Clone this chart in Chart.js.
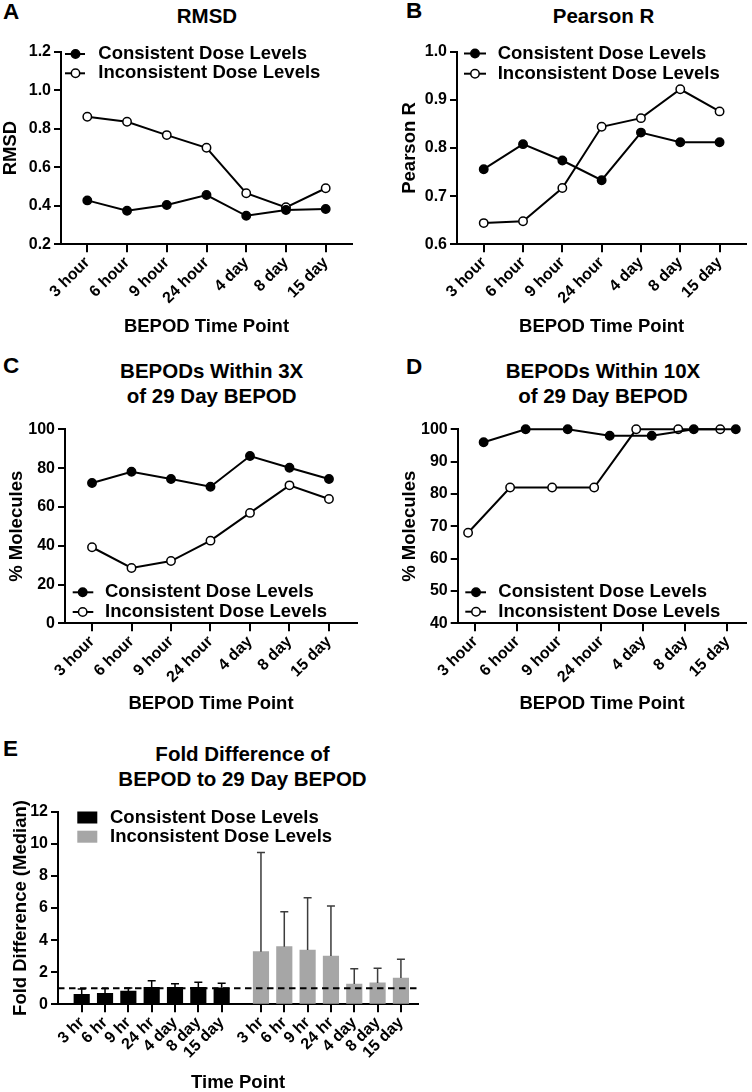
<!DOCTYPE html>
<html>
<head>
<meta charset="utf-8">
<script src="https://cdn.jsdelivr.net/npm/chart.js@4.4.0/dist/chart.umd.min.js"></script>
<style>
body { margin:0; width:752px; height:1092px; background:#fff; position:relative; overflow:hidden;
  font-family:'Liberation Sans', Arial, sans-serif; font-weight:bold; color:#000; }
canvas { position:absolute; }
.lbl { position:absolute; font-size:22.5px; line-height:24px; }
.ttl { position:absolute; width:340px; text-align:center; font-size:20.5px; line-height:25px; }
</style>
</head>
<body>
<div class="lbl" style="left:3px;top:0px">A</div>
<div class="lbl" style="left:406px;top:-1.5px">B</div>
<div class="lbl" style="left:3px;top:353.7px">C</div>
<div class="lbl" style="left:406px;top:354.7px">D</div>
<div class="lbl" style="left:3px;top:737px">E</div>

<div class="ttl" style="left:37px;top:3px">RMSD</div>
<div class="ttl" style="left:433.5px;top:3px">Pearson R</div>
<div class="ttl" style="left:41.7px;top:357.5px">BEPODs Within 3X<br>of 29 Day BEPOD</div>
<div class="ttl" style="left:433px;top:357.5px">BEPODs Within 10X<br>of 29 Day BEPOD</div>
<div class="ttl" style="left:72.5px;top:740.5px">Fold Difference of<br>BEPOD to 29 Day BEPOD</div>

<canvas id="chartA" width="376" height="320" style="left:0;top:30px"></canvas>
<canvas id="chartB" width="376" height="320" style="left:376px;top:30px"></canvas>
<canvas id="chartC" width="376" height="310" style="left:0;top:410px"></canvas>
<canvas id="chartD" width="376" height="310" style="left:376px;top:410px"></canvas>
<canvas id="chartE" width="440" height="302" style="left:0;top:790px"></canvas>

<script>
// ---- data ----
var timeLabels = ['3 hour', '6 hour', '9 hour', '24 hour', '4 day', '8 day', '15 day'];
var barLabels = ['3 hr', '6 hr', '9 hr', '24 hr', '4 day', '8 day', '15 day'];
var seriesNames = ['Consistent Dose Levels', 'Inconsistent Dose Levels'];

var rmsdConsistent = [0.428, 0.374, 0.404, 0.456, 0.348, 0.378, 0.383];
var rmsdInconsistent = [0.862, 0.836, 0.767, 0.701, 0.465, 0.392, 0.491];

var pearsonConsistent = [0.756, 0.808, 0.774, 0.733, 0.832, 0.812, 0.812];
var pearsonInconsistent = [0.644, 0.648, 0.717, 0.844, 0.862, 0.922, 0.876];

var within3xConsistent = [72.3, 78.1, 74.4, 70.4, 86.2, 80.2, 74.4];
var within3xInconsistent = [39.2, 28.5, 32.1, 42.6, 56.9, 71.1, 64.1];

var within10xConsistent = [96, 100, 100, 98, 98, 100, 100];
var within10xInconsistent = [68, 82, 82, 82, 100, 100, 100];

var foldConsistent = [0.62, 0.69, 0.82, 1.06, 1.05, 1.06, 1.03];
var foldConsistentUpper = [0.96, 0.99, 1.02, 1.47, 1.28, 1.38, 1.31];
var foldInconsistent = [3.28, 3.59, 3.38, 3.01, 1.26, 1.33, 1.64];
var foldInconsistentUpper = [9.46, 5.77, 6.64, 6.12, 2.22, 2.24, 2.8];
var foldRefLine = 1;

// ---- shared look ----
var FONT = "'Liberation Sans', Arial, sans-serif";
Chart.defaults.font.family = FONT;
Chart.defaults.font.weight = 'bold';
Chart.defaults.color = '#000';

var TICK_FONT = {size: 16, weight: 'bold'};
var AXIS_TITLE_FONT = {size: 18.5, weight: 'bold'};
var LH = 18.5 * 1.2;

// legend drawn inside the plot area, like the original
var insideLegend = {
  id: 'insideLegend',
  afterDraw: function(chart, args, opts) {
    if (!opts.rows) return;
    var ctx = chart.ctx, a = chart.chartArea;
    ctx.save();
    ctx.font = 'bold 18.5px ' + FONT;
    ctx.textBaseline = 'middle';
    chart.data.datasets.forEach(function(ds, i) {
      var y = (opts.fromBottom ? a.bottom : a.top) + opts.rows[i];
      var x = a.left;
      if (opts.kind == 'box') {
        ctx.fillStyle = ds.backgroundColor;
        ctx.fillRect(x + opts.x0, y - 6, opts.x1 - opts.x0, 12);
      } else {
        ctx.strokeStyle = '#000';
        ctx.lineWidth = 2;
        ctx.beginPath();
        ctx.moveTo(x + opts.x0, y);
        ctx.lineTo(x + opts.x1, y);
        ctx.stroke();
        ctx.beginPath();
        ctx.arc(x + opts.xm, y, 4.2, 0, Math.PI * 2);
        ctx.fillStyle = ds.pointBackgroundColor;
        ctx.fill();
        ctx.lineWidth = 1.5;
        ctx.stroke();
      }
      ctx.fillStyle = '#000';
      ctx.fillText(ds.label, x + opts.xt, y);
    });
    ctx.restore();
  }
};

// upper error bars + dashed reference line for panel E
var errorBars = {
  id: 'errorBars',
  afterDatasetsDraw: function(chart, args, opts) {
    if (!opts.upper) return;
    var ctx = chart.ctx, xs = chart.scales.x, ys = chart.scales.y;
    ctx.save();
    chart.data.datasets.forEach(function(ds, di) {
      ctx.strokeStyle = opts.colors[di];
      ctx.lineWidth = 1.5;
      ds.data.forEach(function(p, i) {
        var x = xs.getPixelForValue(p.x);
        var y0 = ys.getPixelForValue(p.y);
        var y1 = ys.getPixelForValue(opts.upper[di][i]);
        ctx.beginPath();
        ctx.moveTo(x, y0);
        ctx.lineTo(x, y1);
        ctx.moveTo(x - 4, y1);
        ctx.lineTo(x + 4, y1);
        ctx.stroke();
      });
    });
    var yr = ys.getPixelForValue(opts.refLine);
    ctx.setLineDash([6.5, 4.5]);
    ctx.lineWidth = 2;
    ctx.strokeStyle = '#000';
    ctx.beginPath();
    ctx.moveTo(chart.chartArea.left, yr);
    ctx.lineTo(chart.chartArea.right, yr);
    ctx.stroke();
    ctx.restore();
  }
};

function axisX(o, labels, positions) {
  return {
    type: 'linear', bounds: 'data', min: o.xMin, max: o.xMax, offset: false,
    afterBuildTicks: function(s) { s.ticks = positions.map(function(v) { return {value: v}; }); },
    afterFit: function(s) { s.height = o.h - o.area.b; },
    ticks: {autoSkip: false, maxRotation: 45, minRotation: 45, font: TICK_FONT, color: '#000', padding: 1,
      callback: function(v, i) { return labels[i]; }},
    grid: {display: true, offset: false, drawOnChartArea: false, drawTicks: true, tickLength: 8, color: '#000', lineWidth: 2},
    border: {display: true, color: '#000', width: 2},
    title: {display: true, text: o.xTitle, font: AXIS_TITLE_FONT, color: '#000',
      padding: {top: 0, bottom: o.h - o.xTitleY - LH / 2}}
  };
}

function axisY(o) {
  return {
    type: 'linear', bounds: 'data', min: o.yMin, max: o.yMax,
    afterFit: function(s) { s.width = o.area.l; },
    ticks: {stepSize: o.yStep, font: TICK_FONT, color: '#000', padding: 3,
      callback: function(v) { return o.yDec ? v.toFixed(o.yDec) : Math.round(v); }},
    grid: {display: true, drawOnChartArea: false, drawTicks: true, tickLength: 7, color: '#000', lineWidth: 2},
    border: {display: true, color: '#000', width: 2},
    title: {display: true, text: o.yTitle, font: AXIS_TITLE_FONT, color: '#000',
      padding: {top: Math.max(0, o.yTitleX - LH / 2), bottom: 0}}
  };
}

function lineSet(name, values, filled, nudge) {
  return {
    label: name,
    data: values.map(function(v, i) { return {x: i + nudge, y: v}; }),
    borderColor: '#000', borderWidth: 2,
    backgroundColor: filled ? '#000' : '#fff',
    pointRadius: 4.2, pointHoverRadius: 4.2, pointBorderWidth: 1.5,
    pointBackgroundColor: filled ? '#000' : '#fff', pointBorderColor: '#000',
    tension: 0, fill: false, clip: false
  };
}

function lineChart(id, o) {
  var pos = timeLabels.map(function(t, i) { return i; });
  return new Chart(document.getElementById(id), {
    type: 'line',
    data: {datasets: [
      lineSet(seriesNames[0], o.cons, true, o.nudge ? o.nudge[0] : 0),
      lineSet(seriesNames[1], o.incons, false, o.nudge ? o.nudge[1] : 0)
    ]},
    options: {
      responsive: false, animation: false, devicePixelRatio: 1,
      layout: {padding: {left: 0, top: o.area.t, right: o.w - o.area.r, bottom: 0}},
      scales: {x: axisX(o, timeLabels, pos), y: axisY(o)},
      plugins: {legend: {display: false}, tooltip: {enabled: false}, insideLegend: o.legend}
    },
    plugins: [insideLegend]
  });
}

lineChart('chartA', {
  w: 376, h: 320, area: {l: 61, t: 21.7, r: 352, b: 214.3},
  xMin: -0.662, xMax: 6.662, yMin: 0.2, yMax: 1.2, yStep: 0.2, yDec: 1,
  yTitle: 'RMSD', yTitleX: 11, xTitle: 'BEPOD Time Point', xTitleY: 297,
  cons: rmsdConsistent, incons: rmsdInconsistent,
  legend: {rows: [2.3, 21.6], x0: 4, x1: 24, xm: 14.5, xt: 37.3}
});

lineChart('chartB', {
  w: 376, h: 320, area: {l: 81, t: 21.7, r: 373, b: 214.3},
  xMin: -0.68, xMax: 6.68, yMin: 0.6, yMax: 1.0, yStep: 0.1, yDec: 1,
  yTitle: 'Pearson R', yTitleX: 33.5, xTitle: 'BEPOD Time Point', xTitleY: 297,
  cons: pearsonConsistent, incons: pearsonInconsistent,
  legend: {rows: [1.8, 22], x0: 7, x1: 29, xm: 18, xt: 40.7}
});

lineChart('chartC', {
  w: 376, h: 310, area: {l: 65, t: 19.3, r: 357, b: 213.3},
  xMin: -0.684, xMax: 6.71, yMin: 0, yMax: 100, yStep: 20,
  yTitle: '% Molecules', yTitleX: 16.5, xTitle: 'BEPOD Time Point', xTitleY: 294,
  cons: within3xConsistent, incons: within3xInconsistent,
  legend: {fromBottom: true, rows: [-31, -11.3], x0: 7.7, x1: 28.3, xm: 17.7, xt: 40}
});

lineChart('chartD', {
  w: 376, h: 310, area: {l: 81.7, t: 19.3, r: 371.7, b: 213.3},
  xMin: -0.417, xMax: 6.45, yMin: 40, yMax: 100, yStep: 10,
  yTitle: '% Molecules', yTitleX: 34, xTitle: 'BEPOD Time Point', xTitleY: 294,
  cons: within10xConsistent, incons: within10xInconsistent, nudge: [0.2, -0.17],
  legend: {fromBottom: true, rows: [-31, -11.6], x0: 7.6, x1: 28.3, xm: 18.3, xt: 40.6}
});

// ---- panel E: grouped bars on a linear axis, gap between the two groups ----
var grayStart = 7.685;
var posE = barLabels.map(function(t, i) { return i; })
  .concat(barLabels.map(function(t, i) { return i + grayStart; }));
var oE = {
  w: 440, h: 302, area: {l: 58, t: 21.7, r: 418.3, b: 214.3},
  xMin: -1.016, xMax: 14.43, yMin: 0, yMax: 12, yStep: 2,
  yTitle: 'Fold Difference (Median)', yTitleX: 20.5, xTitle: 'Time Point', xTitleY: 293.3
};
new Chart(document.getElementById('chartE'), {
  type: 'bar',
  data: {datasets: [
    {label: seriesNames[0], data: foldConsistent.map(function(v, i) { return {x: i, y: v}; }),
      backgroundColor: '#000', barThickness: 15.5, grouped: false},
    {label: seriesNames[1], data: foldInconsistent.map(function(v, i) { return {x: i + grayStart, y: v}; }),
      backgroundColor: '#a6a6a6', barThickness: 15.5, grouped: false}
  ]},
  options: {
    responsive: false, animation: false, devicePixelRatio: 1,
    layout: {padding: {left: 0, top: oE.area.t, right: oE.w - oE.area.r, bottom: 0}},
    scales: {x: axisX(oE, barLabels.concat(barLabels), posE), y: axisY(oE)},
    plugins: {
      legend: {display: false}, tooltip: {enabled: false},
      insideLegend: {kind: 'box', rows: [5.8, 25], x0: 19.3, x1: 39.3, xt: 52},
      errorBars: {upper: [foldConsistentUpper, foldInconsistentUpper], colors: ['#000', '#3c3c3c'], refLine: foldRefLine}
    }
  },
  plugins: [insideLegend, errorBars]
});
</script>
</body>
</html>
